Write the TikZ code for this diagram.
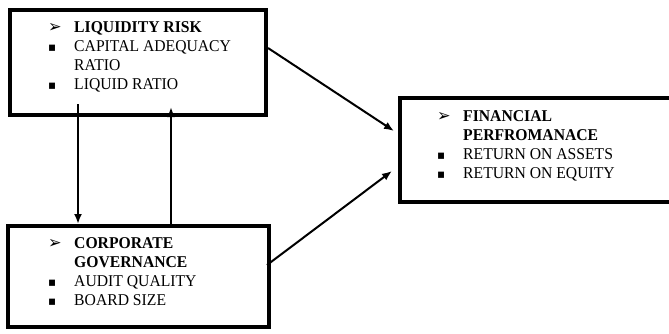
\documentclass[tikz,border=0pt]{standalone}
\usepackage{fontspec}
\setmainfont{Liberation Serif}
\newfontfamily\symfont{DejaVu Sans}
\usetikzlibrary{arrows.meta,calc}
\newcommand{\arrmark}{{\symfont\fontsize{17}{17}\selectfont ➢}}
\newcommand{\sqmark}{{\symfont\fontsize{12.5}{12}\selectfont ▪}}
\newcommand{\mk}[1]{\makebox[27.4pt][l]{#1}}
\begin{document}
\begin{tikzpicture}[x=1pt,y=1pt,
  box/.style={draw,line width=4pt,inner sep=0pt,outer sep=0pt},
  txt/.style={anchor=base west,inner sep=0pt,font=\fontsize{16.5}{19.3}\selectfont},
  arr/.style={line width=2pt,-{Latex[length=10pt,width=8pt]}}]
\useasboundingbox (0,0) rectangle (669,-333);
\node[box,minimum width=256.5pt,minimum height=105.5pt] (lr) at (137.75,-62.25) {};
\node[box,minimum width=261pt,minimum height=101pt] (cg) at (138.5,-276.5) {};
\node[box,minimum width=276pt,minimum height=104pt] (fp) at (538,-150) {};
\node[txt] (lrt) at (48,-32) {\scalebox{0.95}[1]{\begin{tabular}[t]{@{}l@{}l@{}}
\mk{\arrmark}&\textbf{LIQUIDITY RISK}\\
\mk{\sqmark}&CAPITAL ADEQUACY\\
\mk{}&RATIO\\
\mk{\sqmark}&LIQUID RATIO
\end{tabular}}};
\node[txt] (cgt) at (48,-248) {\scalebox{0.95}[1]{\begin{tabular}[t]{@{}l@{}l@{}}
\mk{\arrmark}&\textbf{CORPORATE}\\
\mk{}&\textbf{GOVERNANCE}\\
\mk{\sqmark}&AUDIT QUALITY\\
\mk{\sqmark}&BOARD SIZE
\end{tabular}}};
\node[txt] (fpt) at (437,-121) {\scalebox{0.95}[1]{\begin{tabular}[t]{@{}l@{}l@{}}
\mk{\arrmark}&\textbf{FINANCIAL}\\
\mk{}&\textbf{PERFROMANACE}\\
\mk{\sqmark}&RETURN ON ASSETS\\
\mk{\sqmark}&RETURN ON EQUITY
\end{tabular}}};
\coordinate (d1) at ($(lr.south west)+(68.5,11)$);
\coordinate (d2) at ($(cg.north west)+(70,2)$);
\coordinate (u1) at ($(cg.north west)+(163,2)$);
\coordinate (u2) at ($(lr.south west)+(161.5,8)$);
\coordinate (a1) at ($(lr.north east)+(2,-38.5)$);
\coordinate (a2) at ($(fp.north west)+(-6,-33)$);
\coordinate (b1) at ($(cg.north east)+(-2,-39)$);
\coordinate (b2) at ($(fp.north west)+(-8,-73)$);
\draw[arr] (d1) -- (d2);
\draw[arr] (u1) -- (u2);
\draw[arr] (a1) -- (a2);
\draw[arr] (b1) -- (b2);
\end{tikzpicture}
\end{document}
